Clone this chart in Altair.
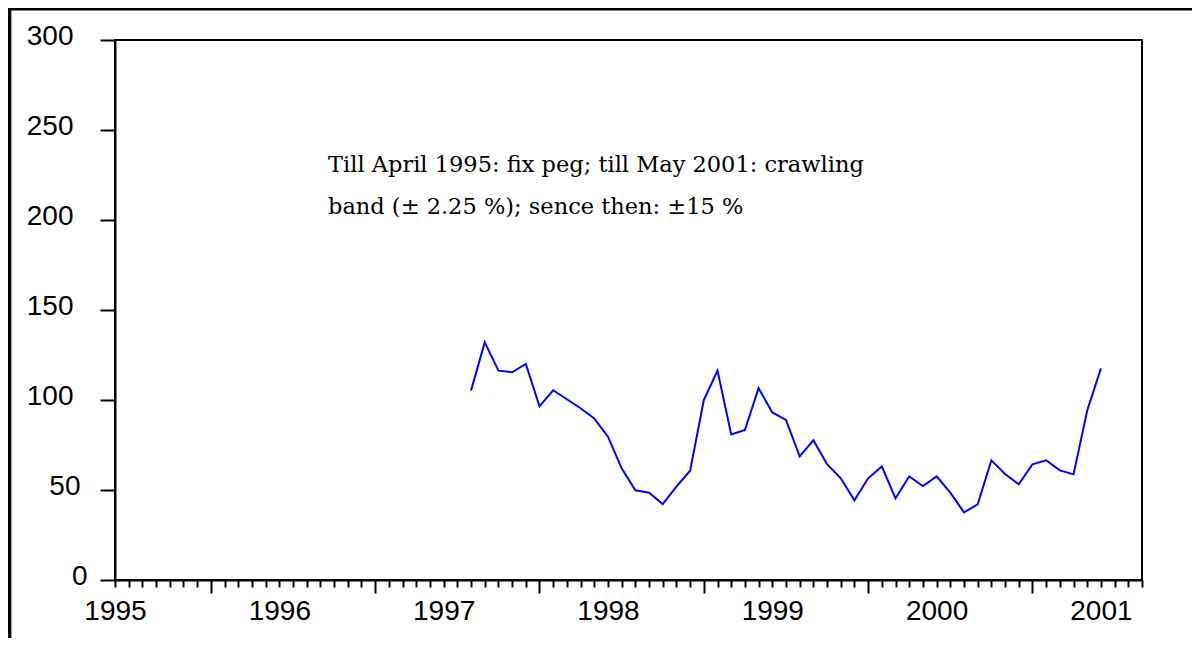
import altair as alt
import pandas as pd

# ---- data ----
months = [str(p) for p in pd.period_range("1997-03", "2001-01", freq="M")]
values = [105.2, 132.0, 116.3, 115.4, 120.0, 96.5, 105.4, 100.4, 95.4, 89.8,
          79.6, 62.0, 49.8, 48.5, 42.2, 51.9, 60.7, 100.0, 116.3, 80.9,
          83.3, 106.5, 93.1, 88.9, 68.7, 77.6, 64.3, 56.5, 44.3, 56.5,
          63.1, 45.4, 57.6, 52.2, 57.6, 48.5, 37.6, 42.0, 66.5, 58.9,
          53.1, 64.3, 66.5, 60.9, 58.7, 94.2, 117.6]
year_labels = ["1995", "1996", "1997", "1998", "1999", "2000", "2001"]
y_ticks = [0, 50, 100, 150, 200, 250, 300]
note_lines = ["Till April 1995: fix peg; till May 2001: crawling",
              "band (\u00b1 2.25 %); sence then: \u00b115 %"]

df = pd.DataFrame({"month": months, "value": values})
df["idx"] = [(int(m[:4]) - 1995) * 12 + int(m[5:7]) - 1 for m in months]

year_arr = "[" + ",".join("'%s'" % y for y in year_labels) + "]"
x_label_expr = f"datum.value % 12 == 0 ? {year_arr}[datum.value / 12] : ''"

x_scale = alt.Scale(domain=[0, 75], nice=False, zero=False)
y_scale = alt.Scale(domain=[0, 300], nice=False)

y_pad = {"condition": [{"test": "datum.value == 0", "value": 13},
                       {"test": "datum.value < 100", "value": 20}],
         "value": 27}

line = alt.Chart(df).mark_line(color="#0000ff", strokeWidth=2).encode(
    x=alt.X("idx:Q", scale=x_scale, title=None,
            axis=alt.Axis(values=list(range(0, 76)), labelExpr=x_label_expr,
                          tickSize={"condition": {"test": "datum.value % 12 == 7", "value": 13}, "value": 7},
                          tickColor="black", tickWidth=2, domainColor="black", domainWidth=2,
                          labelFont="Liberation Sans", labelFontSize=28, labelColor="black",
                          labelPadding=10, labelFlush=False, labelOverlap=False, grid=False)),
    y=alt.Y("value:Q", scale=y_scale, title=None,
            axis=alt.Axis(values=y_ticks, tickSize=15,
                          tickColor="black", tickWidth=2, domainColor="black", domainWidth=2,
                          labelFont="Liberation Sans", labelFontSize=28, labelColor="black",
                          labelPadding=y_pad, labelOffset=-4, labelFlush=False, grid=False)),
)

note = alt.Chart(pd.DataFrame({"t": [0]})).mark_text(
    font="DejaVu Serif", fontSize=22.5, align="left", baseline="alphabetic",
    lineHeight=42, color="black"
).encode(x=alt.value(213), y=alt.value(132), text=alt.value(note_lines))

frame_left = alt.Chart(pd.DataFrame({"t": [0]})).mark_rule(color="black", strokeWidth=3.5).encode(
    x=alt.value(-105.4), y=alt.value(-40), y2=alt.value(620))
frame_top = alt.Chart(pd.DataFrame({"t": [0]})).mark_rule(color="black", strokeWidth=3.4).encode(
    x=alt.value(-110), x2=alt.value(1090), y=alt.value(-31.3))

chart = alt.layer(line, note, frame_left, frame_top).properties(
    width=1027, height=540,
    autosize=alt.AutoSizeParams(type="none"),
    padding={"left": 107, "top": 32, "right": 50, "bottom": 58},
    background="white",
).configure_view(stroke="black", strokeWidth=2)

chart.save("out.html", embed_options={"renderer": "svg", "actions": False})
